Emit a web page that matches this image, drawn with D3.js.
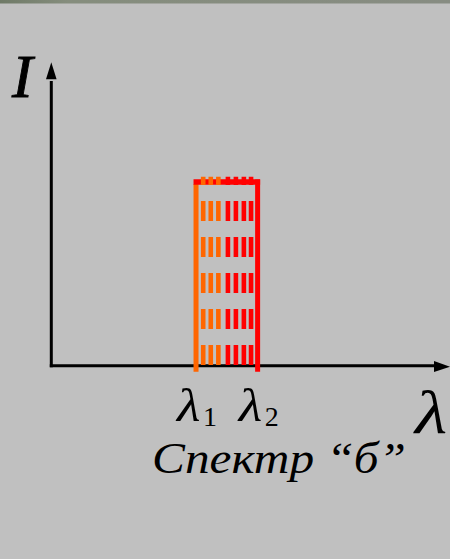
<!DOCTYPE html>
<html>
<head>
<meta charset="utf-8">
<script src="https://cdn.jsdelivr.net/npm/d3@7"></script>
<style>
  html, body { margin: 0; padding: 0; background: #c0c0c0; }
  svg { display: block; }
  text { font-family: "Liberation Serif", "Times New Roman", serif; fill: #000; }
  .it { font-style: italic; }
  .sub { font-style: normal; }
</style>
</head>
<body>
<script>
// Band spectrum "б": continuous emission between λ1 and λ2
const bandEdges = [36.3, 51.75];              // λ1, λ2 (arbitrary wavelength units)
const bandIntensity = 1;                       // flat top of the band
const orangeLines = [38.1, 40.0, 41.9];        // hatching, short-wave part
const redLines = [44.3, 46.3, 48.3, 50.1];     // hatching, long-wave part
const edgeLabels = ["1", "2"];                 // subscripts under the edges
const caption = "Спектр “б”";

const W = 450, H = 559;
const svg = d3.select("body").append("svg").attr("width", W).attr("height", H);

// frame strip at the very top
const grad = svg.append("defs").append("linearGradient").attr("id", "strip");
grad.append("stop").attr("offset", "0%").attr("stop-color", "#6f7a67");
grad.append("stop").attr("offset", "15%").attr("stop-color", "#858d7d");
grad.append("stop").attr("offset", "100%").attr("stop-color", "#878c82");
svg.append("rect").attr("x", 0).attr("y", 0).attr("width", W).attr("height", 3.5).attr("fill", "url(#strip)");

const x = d3.scaleLinear().domain([0, 100]).range([51.3, 450]);
const y = d3.scaleLinear().domain([0, 1]).range([365.7, 182]);

// axes with arrowheads
const axisG = svg.append("g");
axisG.append("line").attr("x1", x(0)).attr("x2", x(0)).attr("y1", y(0) + 1.5).attr("y2", y(1.55))
  .attr("stroke", "#000").attr("stroke-width", 3);
axisG.append("line").attr("x1", x(0) - 1.5).attr("x2", x(96.5)).attr("y1", y(0)).attr("y2", y(0))
  .attr("stroke", "#000").attr("stroke-width", 3);
const yTip = y(1.652), xTip = x(100);
axisG.append("path")
  .attr("d", `M${x(0)},${yTip} L${x(0) - 5.3},${yTip + 17} L${x(0) + 5.3},${yTip + 17} Z`)
  .attr("fill", "#000");
axisG.append("path")
  .attr("d", `M${xTip},${y(0) + 1} L${xTip - 16},${y(0) - 4.7} L${xTip - 16},${y(0) + 6.3} Z`)
  .attr("fill", "#000");

// band outline
const band = svg.append("g");
band.append("line").attr("x1", x(bandEdges[0])).attr("x2", x(bandEdges[0]))
  .attr("y1", y(bandIntensity) + 2).attr("y2", y(0) + 6)
  .attr("stroke", "#ff6600").attr("stroke-width", 5);
band.append("line").attr("x1", x(bandEdges[0]) - 2.5).attr("x2", x(bandEdges[1]) + 2.5)
  .attr("y1", y(bandIntensity)).attr("y2", y(bandIntensity))
  .attr("stroke", "#ff0000").attr("stroke-width", 5.5);
band.append("line").attr("x1", x(bandEdges[1])).attr("x2", x(bandEdges[1]))
  .attr("y1", y(bandIntensity) - 2.5).attr("y2", y(0) + 6)
  .attr("stroke", "#ff0000").attr("stroke-width", 5);

// dashed hatching inside the band
const hatch = orangeLines.map(v => ({ v, c: "#ff6600" }))
  .concat(redLines.map(v => ({ v, c: "#ff0000" })));
band.selectAll("line.hatch").data(hatch).join("line")
  .attr("class", "hatch")
  .attr("x1", d => x(d.v)).attr("x2", d => x(d.v))
  .attr("y1", y(0) - 0.7).attr("y2", y(1.028))
  .attr("stroke", d => d.c).attr("stroke-width", 4.6)
  .attr("stroke-dasharray", "20,16");

// labels
svg.append("text").attr("class", "it").attr("x", 12).attr("y", 96.5).attr("font-size", 62)
  .attr("stroke", "#000").attr("stroke-width", 0.9).text("I");

const lab = svg.append("g");
bandEdges.forEach((v, i) => {
  lab.append("g").attr("transform", `translate(${x(v) - 19},421) scale(1.15,1)`)
    .append("text").attr("class", "it").attr("font-size", 47).text("λ");
  lab.append("text").attr("class", "sub").attr("x", x(v) + 7).attr("y", 426)
    .attr("font-size", 28).text(edgeLabels[i]);
});
svg.append("g").attr("transform", "translate(415,433) scale(1.2,1)")
  .append("text").attr("class", "it").attr("font-size", 62).text("λ");
svg.append("text").attr("class", "it").attr("x", 152).attr("y", 472.5).attr("font-size", 45)
  .attr("textLength", 254).attr("lengthAdjust", "spacingAndGlyphs").text(caption);
</script>
</body>
</html>
